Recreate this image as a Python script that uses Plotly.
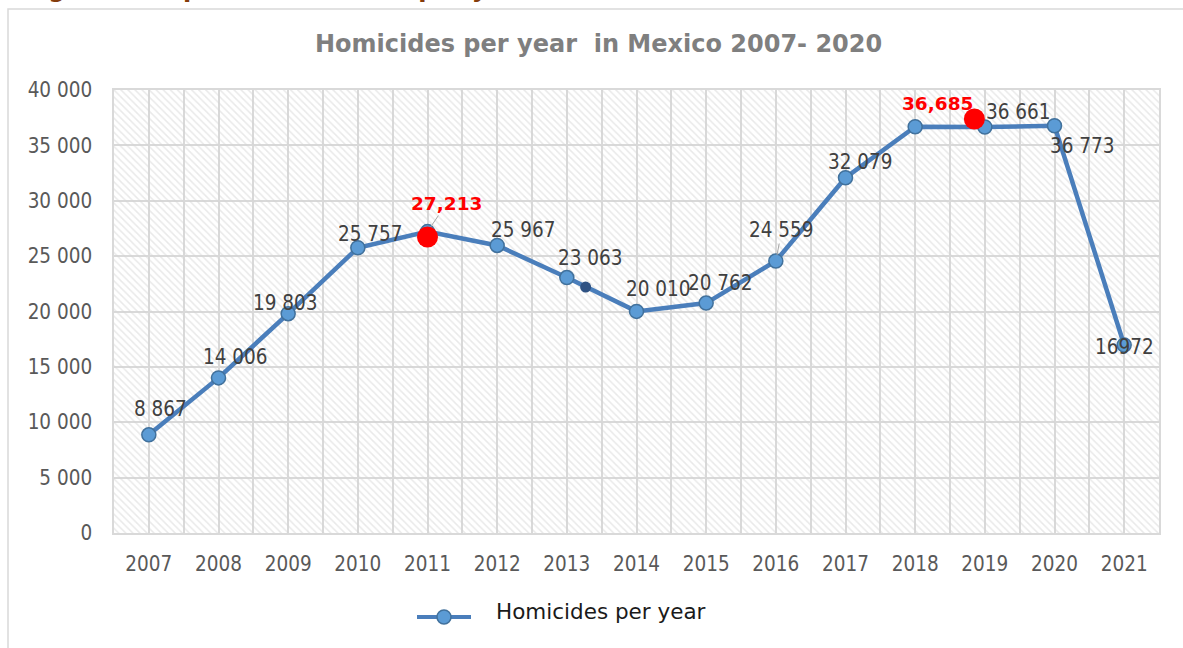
import plotly.graph_objects as go

# ---------------- data ----------------
years = ["2007", "2008", "2009", "2010", "2011", "2012", "2013", "2014",
         "2015", "2016", "2017", "2018", "2019", "2020", "2021"]
homicides = [8867, 14006, 19803, 25757, 27213, 25967, 23063, 20010,
             20762, 24559, 32079, 36685, 36661, 36773, 16972]
label_texts = ["8 867", "14 006", "19 803", "25 757", "27,213", "25 967", "23 063",
               "20 010", "20 762", "24 559", "32 079", "36,685", "36 661", "36 773", "16972"]
red_labels = ["2011", "2018"]           # highlighted (red, bold) labels
leader_labels = ["2011", "2016"]        # labels with a leader line
# highlight dots drawn over the chart (category index, value)
red_dot_x = [4.0, 11.85]
red_dot_y = [26730, 37380]
dark_dot_x = [6.27]
dark_dot_y = [22210]
y_ticks = [0, 5000, 10000, 15000, 20000, 25000, 30000, 35000, 40000]

# ---------------- layout geometry (pixels) ----------------
W, H = 1183, 648
L, R, T, B = 114, 1159, 90, 533


def px_x(px):
    return (px - L) / (R - L)


def px_y(py):
    return (B - py) / (B - T)


# label offsets (dx, dy up) in pixels from the data point
offsets = {
    "2007": (12, 26), "2008": (17, 21), "2009": (-3, 11), "2010": (13, 14),
    "2011": (19, 28), "2012": (26, 15), "2013": (24, 20), "2014": (22, 22),
    "2015": (14, 20), "2016": (6, 31), "2017": (15, 16), "2018": (22, 23),
    "2019": (34, 15), "2020": (28, -20), "2021": (0, -2),
}

idx = list(range(len(years)))
FONT = "DejaVu Sans Condensed, DejaVu Sans, sans-serif"
VFONT = "DejaVu Sans, Verdana, sans-serif"
GRID = "#d9d9d9"

fig = go.Figure()

# hatched plot-area background
fig.add_trace(go.Scatter(
    x=[-0.5, len(years) - 0.5, len(years) - 0.5, -0.5, -0.5],
    y=[0, 0, y_ticks[-1], y_ticks[-1], 0],
    mode="none", fill="toself", fillcolor="rgba(0,0,0,0)",
    fillpattern=dict(shape="\\", fgcolor="#d4d4d4", bgcolor="rgba(0,0,0,0)",
                     size=5, solidity=0.3),
    hoverinfo="skip", showlegend=False,
))

# main series
fig.add_trace(go.Scatter(
    x=idx, y=homicides, mode="lines+markers", name="Homicides per year",
    line=dict(color="#4a7ebb", width=4.5),
    marker=dict(size=14, color="#5b9bd5", line=dict(color="#41719c", width=1.5)),
    showlegend=False,
))

# extra dots
fig.add_trace(go.Scatter(
    x=dark_dot_x, y=dark_dot_y, mode="markers",
    marker=dict(size=11, color="#2f5283"), hoverinfo="skip", showlegend=False,
))
fig.add_trace(go.Scatter(
    x=red_dot_x, y=red_dot_y, mode="markers",
    marker=dict(size=21, color="#ff0000"), hoverinfo="skip", showlegend=False,
))

annotations = []
for i, (yr, v, t) in enumerate(zip(years, homicides, label_texts)):
    dx, dy = offsets[yr]
    red = yr in red_labels
    font = dict(family=VFONT if red else FONT, size=18.5 if red else 20.5,
                color="#ff0000" if red else "#404040")
    if red:
        font["weight"] = "bold"
    if yr in leader_labels:
        annotations.append(dict(
            x=i, y=v, xref="x", yref="y", text=t, showarrow=True,
            arrowhead=0, arrowwidth=1, arrowcolor="#a6a6a6",
            ax=dx, ay=-dy, standoff=6, font=font,
        ))
    else:
        annotations.append(dict(
            x=i, y=v, xref="x", yref="y", text=t, showarrow=False,
            xshift=dx, yshift=dy, font=font,
        ))

# title
annotations.append(dict(
    x=px_x(598), y=px_y(44), xref="paper", yref="paper",
    xanchor="center", yanchor="middle",
    text="Homicides per year  in Mexico 2007- 2020", showarrow=False,
    font=dict(family=VFONT, size=24, color="#7f7f7f", weight="bold"),
))

# cut-off header above the chart (cropped at the top edge, as in the original)
annotations.append(dict(
    x=px_x(-4), y=px_y(5), xref="paper", yref="paper", xanchor="left", yanchor="bottom",
    text="Image 2 – Graph for homicides per year in Mexico", showarrow=False,
    font=dict(family=VFONT, size=24, color="#843c0c", weight="bold"),
))

# manual legend text
annotations.append(dict(
    x=px_x(494), y=px_y(611), xref="paper", yref="paper",
    xanchor="left", yanchor="middle",
    text="Homicides per year", showarrow=False,
    font=dict(family=VFONT, size=21.5, color="#1a1a1a"),
))

shapes = [
    # chart frame
    dict(type="rect", xref="paper", yref="paper",
         x0=px_x(8), x1=px_x(1195), y0=px_y(9), y1=px_y(660),
         line=dict(color="#d9d9d9", width=1.5), layer="below"),
    # legend line sample
    dict(type="line", xref="paper", yref="paper",
         x0=px_x(417), x1=px_x(471), y0=px_y(617), y1=px_y(617),
         line=dict(color="#4a7ebb", width=4)),
    dict(type="circle", xref="paper", yref="paper",
         x0=px_x(437), x1=px_x(451), y0=px_y(610), y1=px_y(624),
         fillcolor="#5b9bd5", line=dict(color="#41719c", width=1.5)),
]

fig.update_layout(
    width=W, height=H,
    margin=dict(l=L, r=W - R, t=T, b=H - B, pad=0),
    paper_bgcolor="white", plot_bgcolor="white",
    separators=". ",
    showlegend=False,
    annotations=annotations,
    shapes=shapes,
    font=dict(family=FONT, color="#595959"),
)

fig.update_xaxes(
    range=[-0.5, len(years) - 0.5],
    tickmode="array", tickvals=idx, ticktext=years,
    tickfont=dict(family=FONT, size=20.5, color="#595959"),
    showgrid=True, gridcolor=GRID, gridwidth=1.5,
    minor=dict(tickmode="linear", tick0=-0.5, dtick=1, showgrid=True,
               gridcolor=GRID, gridwidth=1.5),
    showline=True, mirror=True, linecolor=GRID, linewidth=1.5,
    zeroline=False, ticks="", ticklabelstandoff=12,
)
fig.update_yaxes(
    range=[0, y_ticks[-1]],
    tickmode="array", tickvals=y_ticks, tickformat=",d",
    tickfont=dict(family=FONT, size=20.5, color="#595959"),
    showgrid=True, gridcolor=GRID, gridwidth=1.5,
    showline=True, mirror=True, linecolor=GRID, linewidth=1.5,
    zeroline=False, ticks="", ticklabelstandoff=16,
)

fig.write_html("out.html",
               config={"displayModeBar": False},
               post_script="document.body.style.margin='0';document.body.style.overflow='hidden';")
